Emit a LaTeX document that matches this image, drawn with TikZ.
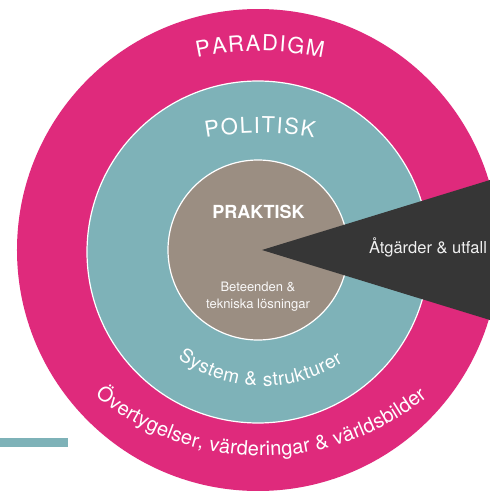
\documentclass[tikz,border=0pt]{standalone}
\usepackage{fontspec}
\setmainfont{TeX Gyre Heros}
\usetikzlibrary{decorations.text}
\definecolor{paradigmpink}{HTML}{DF2A7C}
\definecolor{politeal}{HTML}{7EB2B8}
\definecolor{praktbrown}{HTML}{9B8E82}
\definecolor{wedgedark}{HTML}{363636}
\newcommand{\titlefont}{\fontsize{22}{22}\selectfont}
\newcommand{\beliefont}{\fontsize{20}{20}\selectfont}
\newcommand{\bandfont}{\fontsize{19}{19}\selectfont}

\begin{document}
\begin{tikzpicture}[
    x=1pt, y=1pt,
    ring/.style={circle, inner sep=0pt, draw=white, line width=1.2pt},
    curvedtext/.style={decorate, decoration={text along path, text align={fit to path}, text color=white}},
    labeltext/.style={text=white, inner sep=0pt},
]

% Frame
\useasboundingbox (-258,-241) rectangle (232,250);
\clip (-258,-241) rectangle (232,250);

% Rings
\node[ring, draw=none, fill=paradigmpink, minimum size=482pt] (paradigm) at (0,0) {};
\node[ring, fill=politeal, minimum size=342pt] (politisk) at (0,-2) {};
\node[ring, fill=praktbrown, minimum size=180pt] (praktisk) at (0,0) {};

% Wedge
\coordinate (tip) at (4,0);
\coordinate (wedge top) at (245,74);
\coordinate (wedge bottom) at (245,-74);
\fill[wedgedark] (tip) -- (wedge top) -- (wedge bottom) -- cycle;

% Teal bar
\fill[politeal] (-258,-188) rectangle (-190,-197);

% Curved labels
\path[curvedtext, decoration={text={|\titlefont|PARADIGM}}]
    (2,-101) ++(102.1:300) arc[start angle=102.1, end angle=77.9, radius=300];
\path[curvedtext, decoration={text={|\titlefont|POLITISK}}]
    (2,-183) ++(100.4:300) arc[start angle=100.4, end angle=79.6, radius=300];
\path[curvedtext, decoration={text={|\bandfont|System {\&} strukturer}}]
    (5,11) ++(234.5:147) arc[start angle=234.5, end angle=303, radius=147];
\path[curvedtext, decoration={text={|\beliefont|Övertygelser, värderingar {\&} världsbilder}}]
    (4,55) ++(230.2:261) arc[start angle=230.2, end angle=309.2, radius=261];

% Straight labels
\node[labeltext, anchor=base, font=\bfseries\fontsize{18}{18}\selectfont] (praktisk title) at (0.5,32) {PRAKTISK};
\node[labeltext, align=center, text=white!94!praktbrown, font=\fontsize{13}{17}\selectfont] (praktisk sub) at (0,-47) {Beteenden \&\\tekniska lösningar};
\node[labeltext, anchor=base, text=white!92!wedgedark, font=\fontsize{16.5}{16.5}\selectfont] (outcome) at (170,-3) {Åtgärder \& utfall};

\end{tikzpicture}
\end{document}
